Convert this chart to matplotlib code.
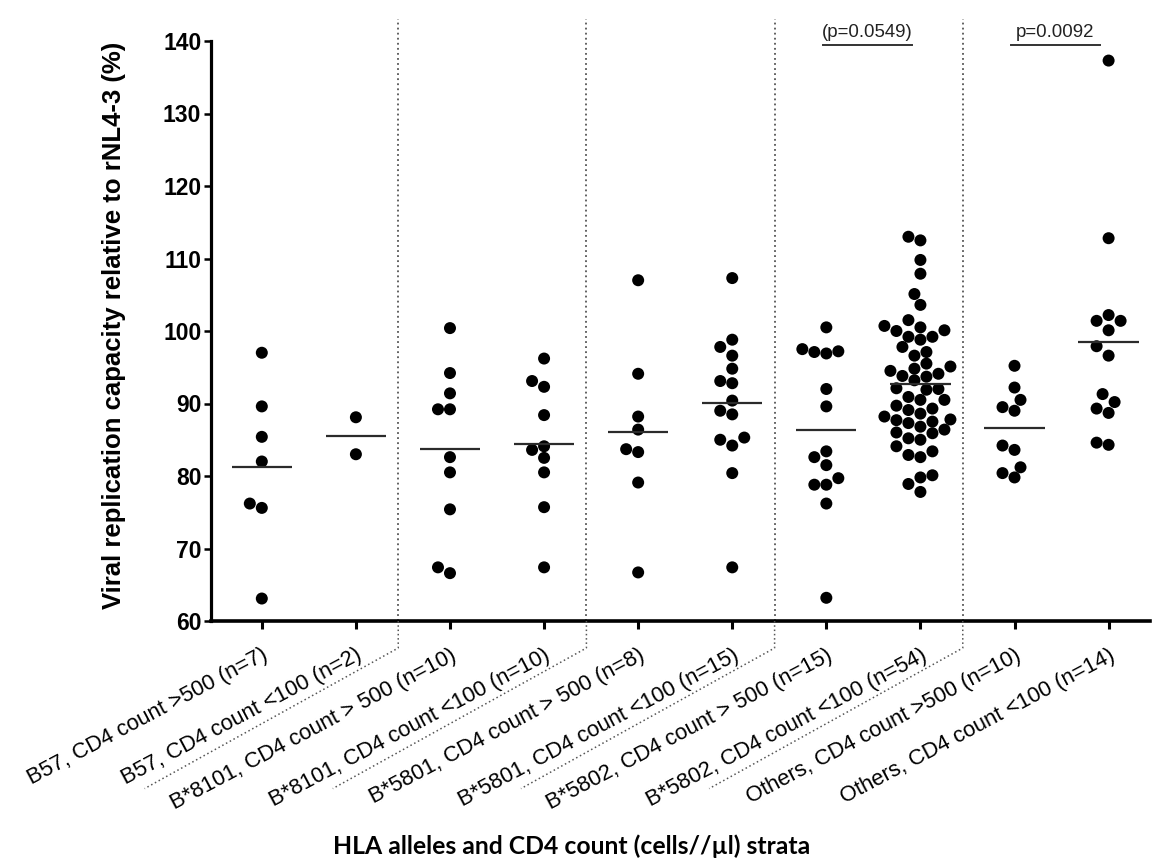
import numpy as np
import matplotlib
matplotlib.use("Agg")
import matplotlib.pyplot as plt
from matplotlib.lines import Line2D

# ---------------- data ----------------
categories = [
    "B57, CD4 count >500 (n=7)",
    "B57, CD4 count <100 (n=2)",
    "B*8101, CD4 count > 500 (n=10)",
    "B*8101, CD4 count <100 (n=10)",
    "B*5801, CD4 count > 500 (n=8)",
    "B*5801, CD4 count <100 (n=15)",
    "B*5802, CD4 count > 500 (n=15)",
    "B*5802, CD4 count <100 (n=54)",
    "Others, CD4 count >500 (n=10)",
    "Others, CD4 count <100 (n=14)",
]

b57_hi = [97.0, 89.6, 85.4, 82.0, 76.2, 75.6, 63.1]
b57_lo = [88.1, 83.0]
b8101_hi = [100.4, 94.2, 91.4, 89.2, 89.2, 82.6, 80.5, 75.4, 67.4, 66.6]
b8101_lo = [96.2, 93.1, 92.3, 88.4, 84.1, 83.6, 82.5, 80.5, 75.7, 67.4]
b5801_hi = [107.0, 94.1, 88.2, 86.4, 83.7, 83.3, 79.1, 66.7]
b5801_lo = [107.3, 98.8, 97.8, 96.6, 94.8, 93.1, 92.8, 90.4, 89.0, 88.5,
            85.3, 85.0, 84.2, 80.4, 67.4]
b5802_hi = [100.5, 97.5, 97.1, 96.9, 97.2, 92.0, 89.6, 83.4, 82.6, 81.5,
            79.7, 78.8, 78.8, 76.2, 63.2]
b5802_lo = [113.0, 112.5, 109.8, 107.9, 105.1, 103.6, 101.5, 100.7, 100.1, 100.0,
            100.5, 99.2, 99.2, 98.8, 97.8, 97.1, 96.6, 95.5, 94.8, 95.1,
            94.5, 94.1, 93.8, 93.7, 92.0, 91.9, 92.1, 90.9, 90.5, 90.5,
            89.7, 89.3, 89.1, 88.6, 88.2, 87.8, 87.7, 87.5, 87.3, 86.8,
            86.4, 85.9, 85.2, 85.0, 84.1, 83.4, 82.9, 82.6, 80.1, 79.8,
            78.9, 77.8, 93.2, 86.0]
others_hi = [95.2, 92.2, 90.5, 89.5, 89.0, 84.2, 83.6, 81.2, 80.4, 79.8]
others_lo = [137.3, 112.8, 102.2, 101.4, 101.4, 100.1, 97.9, 96.6, 91.3, 90.2,
             89.3, 88.7, 84.3, 84.6]

groups = [b57_hi, b57_lo, b8101_hi, b8101_lo, b5801_hi, b5801_lo,
          b5802_hi, b5802_lo, others_hi, others_lo]

yticks = [60, 70, 80, 90, 100, 110, 120, 130, 140]
separators = [1.45, 3.45, 5.45, 7.45]
pvalues = [("(p=0.0549)", 6, 7), ("p=0.0092", 8, 9)]

# ---------------- figure ----------------
W, H, DPI = 1153, 864, 100
fig = plt.figure(figsize=(W / DPI, H / DPI), dpi=DPI)
L, R, B, T = 211 / W, 1150 / W, 1 - 621 / H, 1 - 41 / H
ax = fig.add_axes([L, B, R - L, T - B])
xmin, xmax, ymin, ymax = -0.54, 9.44, 60, 140
ax.set_xlim(xmin, xmax)
ax.set_ylim(ymin, ymax)

ax_w_px = (R - L) * W
ax_h_px = (T - B) * H
xpx = ax_w_px / (xmax - xmin)
ypx = ax_h_px / (ymax - ymin)

DOT = 12.0  # dot diameter in pixels


def swarm_offsets(vals):
    vals = np.asarray(vals, dtype=float)
    order = np.argsort(vals)
    placed = []
    offs = np.zeros(len(vals))
    step = DOT / 2.0
    cands = [0]
    for k in range(1, 40):
        cands += [-k, k]
    for i in order:
        y = vals[i] * ypx
        for k in cands:
            x = k * step
            ok = all((x - px) ** 2 + (y - py) ** 2 >= (DOT * 0.95) ** 2 for px, py in placed)
            if ok:
                break
        placed.append((x, y))
        offs[i] = x / xpx
    return offs


ms = (DOT * 72 / DPI) ** 2
for i, g in enumerate(groups):
    off = swarm_offsets(g)
    ax.scatter(i + off, g, s=ms, color="black", edgecolor="none", zorder=3, clip_on=False)
    m = np.mean(g)
    ax.plot([i - 0.32, i + 0.32], [m, m], color="#2b2b2b", lw=1.6, zorder=4,
            solid_capstyle="butt")

# separators
for s in separators:
    ax.plot([s, s], [ymin, 143], color="#555555", lw=1.3, ls=(0, (1, 1.8)),
            clip_on=False, zorder=1)

# p-value annotations
for txt, a, b in pvalues:
    yline = 139.4
    ax.plot([a - 0.04, b - 0.09], [yline, yline], color="#333333", lw=1.4, clip_on=False)
    ax.text((a - 0.04 + b - 0.09) / 2, yline + 0.6, txt, ha="center", va="bottom",
            fontsize=13.4, family="Liberation Sans", color="#222222")

# axes styling
for sp in ["top", "right"]:
    ax.spines[sp].set_visible(False)
ax.spines["left"].set_linewidth(2.3)
ax.spines["bottom"].set_linewidth(2.6)

ax.set_yticks(yticks)
ax.set_yticklabels([str(v) for v in yticks], fontsize=16.5, fontweight="bold",
                   family="Liberation Sans")
ax.tick_params(axis="y", length=5, width=1.8, pad=2)

ROT = 28
ax.set_xticks(range(len(categories)))
ax.set_xticklabels(categories, rotation=ROT, ha="right", va="top",
                   rotation_mode="anchor", fontsize=15.8, family="Liberation Sans")
ax.tick_params(axis="x", length=6, width=2.2, pad=11)

ax.set_ylabel("Viral replication capacity relative to rNL4-3 (%)", fontsize=18.5,
              fontweight="bold", family="Liberation Sans")
ax.yaxis.set_label_coords(126 / W, 1 - 325 / H, transform=fig.transFigure)

ax.set_xlabel("HLA alleles and CD4 count (cells//\u00b5l) strata", fontsize=17.8,
              fontweight="bold", family="Lato")
ax.xaxis.set_label_coords(572 / W, 1 - 834 / H, transform=fig.transFigure)

# dotted separators continuing between the rotated labels
inv = fig.transFigure.inverted()
ang = np.deg2rad(ROT + 1)
for s in separators:
    bx, by = ax.transData.transform((s, ymin))
    drop = 27
    Ld = 290
    pts = [(bx, by), (bx, by - drop),
           (bx - Ld * np.cos(ang), by - drop - Ld * np.sin(ang))]
    fpts = inv.transform(pts)
    fig.add_artist(Line2D(fpts[:, 0], fpts[:, 1], color="#555555", lw=1.1,
                          ls=(0, (1, 1.8)), transform=fig.transFigure))

fig.savefig("out.png", dpi=DPI)
